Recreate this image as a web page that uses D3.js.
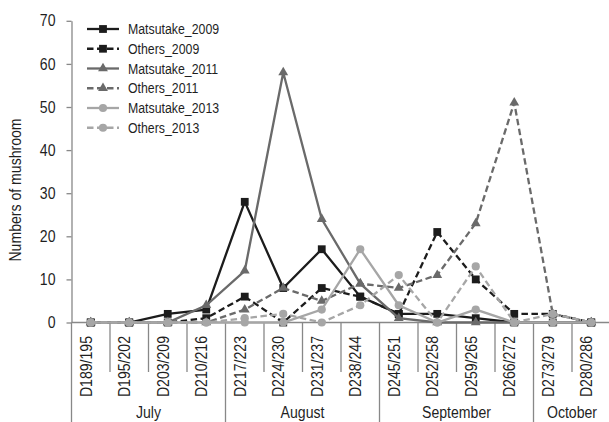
<!DOCTYPE html>
<html>
<head>
<meta charset="utf-8">
<script src="https://cdn.jsdelivr.net/npm/d3@7"></script>
<style>
  html, body { margin: 0; padding: 0; background: #fff; }
  svg text { font-family: "Liberation Sans", Arial, sans-serif; fill: #1f1f1f; }
</style>
</head>
<body>
<svg id="chart" width="609" height="422"></svg>
<script>
// Weekly periods (day-of-year ranges) on the category axis
const categories = ["D189/195","D195/202","D203/209","D210/216","D217/223","D224/230","D231/237",
                    "D238/244","D245/251","D252/258","D259/265","D266/272","D273/279","D280/286"];
// Month groups under the period labels
const monthNames = ["July", "August", "September", "October"];
const monthSpans = [4, 4, 4, 2];

// Mushroom counts per period
const matsutake2009 = [0,0,2,3,28,8,17,6,2,2,1,0,0,0];
const others2009    = [0,0,0,1,6,0,8,6,2,21,10,2,2,0];
const matsutake2011 = [0,0,0,4,12,58,24,9,1,0,0,0,0,0];
const others2011    = [0,0,0,0,3,8,5,9,8,11,23,51,2,0];
const matsutake2013 = [0,0,0,0,0,0,3,17,4,0,3,0,0,0];
const others2013    = [0,0,0,0,1,2,0,4,11,0,13,0,2,0];

const seriesNames = ["Matsutake_2009","Others_2009","Matsutake_2011","Others_2011","Matsutake_2013","Others_2013"];
const yTicks = [0,10,20,30,40,50,60,70];

const seriesValues = [matsutake2009, others2009, matsutake2011, others2011, matsutake2013, others2013];
const seriesColor  = ["#1c1c1c","#1c1c1c","#6a6a6a","#6a6a6a","#a6a6a6","#a6a6a6"];
const seriesDash   = [null,"6.5,3.5",null,"6.5,3.5",null,"6.5,3.5"];
const seriesMarker = ["square","square","triangle","triangle","circle","circle"];

const svg = d3.select("#chart");
const axisColor = "#888";

const x = d3.scaleBand().domain(categories).range([71.5, 610.5]).padding(0);
const y = d3.scaleLinear().domain([0, 70]).range([322.5, 20.8]);
const bw = x.bandwidth();
const cx = c => x(c) + bw / 2;

// Y axis
const yAxis = svg.append("g")
  .attr("transform", `translate(${x.range()[0]},0)`)
  .call(d3.axisLeft(y).tickValues(yTicks).tickSize(5).tickSizeOuter(0).tickPadding(11));
yAxis.select(".domain").attr("stroke", axisColor).attr("stroke-width", 1.3);
yAxis.selectAll(".tick line").attr("stroke", axisColor).attr("stroke-width", 1.3);
yAxis.selectAll(".tick text").attr("font-size", 16).attr("font-family", null).attr("fill", "#1f1f1f");

// Y title
svg.append("text")
  .attr("transform", `translate(21,190) rotate(-90)`)
  .attr("text-anchor", "middle")
  .attr("font-size", 16)
  .text("Numbers of mushroom");

// X axis baseline
svg.append("line")
  .attr("x1", x.range()[0]).attr("x2", x.range()[1])
  .attr("y1", y(0)).attr("y2", y(0))
  .attr("stroke", axisColor).attr("stroke-width", 1.3);

// Boundary ticks: long ones separate months
const monthStarts = new Set(d3.cumsum([0, ...monthSpans]));
const boundaries = d3.range(categories.length + 1);
svg.append("g").selectAll("line").data(boundaries).join("line")
  .attr("x1", i => x.range()[0] + i * bw)
  .attr("x2", i => x.range()[0] + i * bw)
  .attr("y1", y(0))
  .attr("y2", i => monthStarts.has(i) ? 422 : 372)
  .attr("stroke", axisColor).attr("stroke-width", 1.3);

// Period labels
svg.append("g").selectAll("text").data(categories).join("text")
  .attr("transform", c => `translate(${cx(c) + 1},336) rotate(-90)`)
  .attr("text-anchor", "end")
  .attr("font-size", 16)
  .text(c => c);

// Month labels
const monthStartIdx = d3.cumsum([0, ...monthSpans]);
svg.append("g").selectAll("text").data(monthNames).join("text")
  .attr("x", (m, i) => {
    const a = x(categories[monthStartIdx[i]]);
    const b = x(categories[monthStartIdx[i] + monthSpans[i] - 1]) + bw;
    return (a + b) / 2;
  })
  .attr("y", 417.5)
  .attr("text-anchor", "middle")
  .attr("font-size", 16)
  .text(m => m);

// Markers
function drawMarker(g, type, color, px, py) {
  if (type === "square") {
    g.append("rect").attr("x", px - 3.9).attr("y", py - 3.9)
      .attr("width", 7.8).attr("height", 7.8).attr("fill", color);
  } else if (type === "triangle") {
    g.append("path").attr("transform", `translate(${px},${py})`)
      .attr("d", d3.symbol(d3.symbolTriangle, 42)()).attr("fill", color);
  } else {
    g.append("circle").attr("cx", px).attr("cy", py).attr("r", 4.1).attr("fill", color);
  }
}

// Series lines
const line = d3.line().x((v, i) => cx(categories[i])).y(v => y(v));
seriesValues.forEach((vals, s) => {
  const g = svg.append("g");
  g.append("path")
    .attr("d", line(vals))
    .attr("fill", "none")
    .attr("stroke", seriesColor[s])
    .attr("stroke-width", 2.3)
    .attr("stroke-dasharray", seriesDash[s])
    .attr("stroke-linejoin", "miter");
  vals.forEach((v, i) => drawMarker(g, seriesMarker[s], seriesColor[s], cx(categories[i]), y(v)));
});

// Legend
const legend = svg.append("g");
seriesNames.forEach((name, s) => {
  const ly = 29 + s * 19.75;
  const g = legend.append("g");
  g.append("line").attr("x1", 87).attr("x2", 119).attr("y1", ly).attr("y2", ly)
    .attr("stroke", seriesColor[s]).attr("stroke-width", 2.3)
    .attr("stroke-dasharray", seriesDash[s]);
  drawMarker(g, seriesMarker[s], seriesColor[s], 103, ly);
  g.append("text").attr("x", 128).attr("y", ly + 5).attr("font-size", 14).text(name);
});

// Narrow the sans face to the condensed proportions of the labels
svg.selectAll("text").each(function () {
  const w = this.getComputedTextLength();
  d3.select(this).attr("textLength", w * 0.88).attr("lengthAdjust", "spacingAndGlyphs");
});
</script>
</body>
</html>
